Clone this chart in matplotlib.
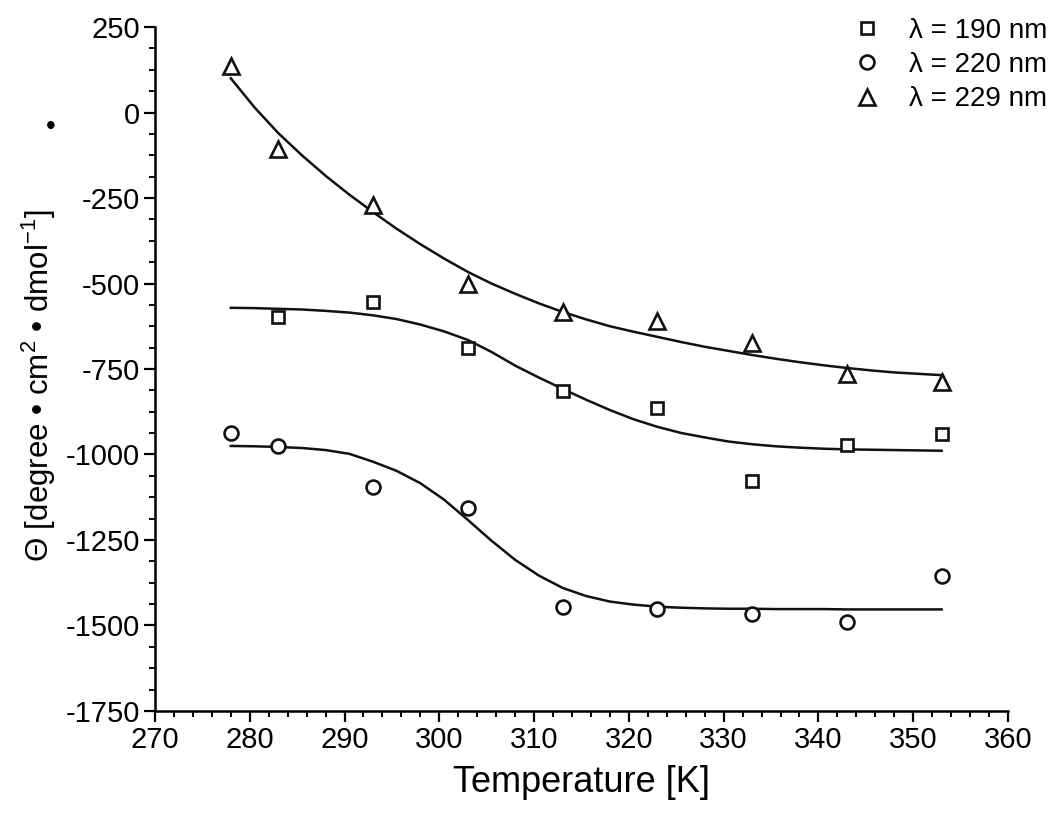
import numpy as np
import matplotlib
matplotlib.use("Agg")
import matplotlib.pyplot as plt
from matplotlib.ticker import MultipleLocator

plt.rcParams['font.family'] = ['Liberation Sans', 'DejaVu Sans']
plt.rcParams['axes.unicode_minus'] = False
plt.rcParams['mathtext.fontset'] = 'custom'
plt.rcParams['mathtext.rm'] = 'Liberation Sans'

# measured points
temps = [278, 283, 293, 303, 313, 323, 333, 343, 353]
temps_sq = [283, 293, 303, 313, 323, 333, 343, 353]
theta_190 = [-598, -554, -689, -814, -864, -1077, -972, -940]
theta_220 = [-937, -975, -1095, -1156, -1446, -1452, -1466, -1490, -1355]
theta_229 = [137, -107, -270, -500, -583, -610, -674, -765, -788]

# fitted curves
fit_T = [278, 280.5, 283, 285.5, 288, 290.5, 293, 295.5, 298, 300.5, 303, 305.5,
         308, 310.5, 313, 315.5, 318, 320.5, 323, 325.5, 328, 330.5, 333, 335.5,
         338, 340.5, 343, 345.5, 348, 350.5, 353]
fit_190 = [-571, -572, -574, -576, -580, -585, -593, -604, -620, -640, -665, -700,
           -740, -775, -808, -840, -870, -897, -919, -937, -950, -962, -970, -976,
           -980, -983, -985, -986, -987, -988, -989]
fit_220 = [-975, -976, -978, -981, -987, -998, -1021, -1048, -1084, -1132, -1191, -1252,
           -1308, -1354, -1390, -1414, -1430, -1439, -1445, -1448, -1450, -1451, -1451, -1452,
           -1452, -1452, -1453, -1453, -1453, -1453, -1453]
fit_229 = [100, 15, -60, -125, -185, -240, -291, -340, -385, -427, -466, -500,
           -530, -558, -583, -605, -625, -641, -656, -671, -685, -697, -709, -720,
           -730, -739, -747, -754, -760, -764, -768]

fig = plt.figure(figsize=(10.5, 8.34), dpi=100)
ax = fig.add_axes([0.1476, 0.1475, 0.8124, 0.8201])

lw = 1.8
for fy in [fit_190, fit_220, fit_229]:
    ax.plot(fit_T, fy, color='#111111', lw=lw, solid_joinstyle='round')

mk = dict(linestyle='none', markerfacecolor='white', markeredgecolor='#111111',
          markeredgewidth=1.9)
ax.plot(temps_sq, theta_190, marker='s', markersize=9, label=u'\u03bb = 190 nm', **mk)
ax.plot(temps, theta_220, marker='o', markersize=10, label=u'\u03bb = 220 nm', **mk)
ax.plot(temps, theta_229, marker='^', markersize=11, label=u'\u03bb = 229 nm', **mk)

ax.set_xlim(270, 360)
ax.set_ylim(-1750, 250)
ax.xaxis.set_major_locator(MultipleLocator(10))
ax.xaxis.set_minor_locator(MultipleLocator(2))
ax.yaxis.set_major_locator(MultipleLocator(250))
ax.yaxis.set_minor_locator(MultipleLocator(62.5))

for s in ['top', 'right']:
    ax.spines[s].set_visible(False)
for s in ['left', 'bottom']:
    ax.spines[s].set_linewidth(1.8)

ax.tick_params(which='major', direction='out', length=8, width=1.6, labelsize=21, pad=3)
ax.tick_params(which='minor', direction='out', length=4.5, width=1.4)

ax.set_xlabel('Temperature [K]', fontsize=26, labelpad=8)
fig.text(0.037, 0.538, u'\u0398 [degree \u2022 cm$^2$ \u2022 dmol$^{-1}$]', fontsize=22.5,
         rotation=90, ha='center', va='center')
fig.text(0.048, 0.848, u'\u2022', fontsize=20, ha='center', va='center')

leg = ax.legend(loc='upper right', bbox_to_anchor=(1.075, 1.05), frameon=False,
                fontsize=20, handletextpad=0.9, labelspacing=0.3, handlelength=1.2)

fig.savefig('out.png', dpi=100)
